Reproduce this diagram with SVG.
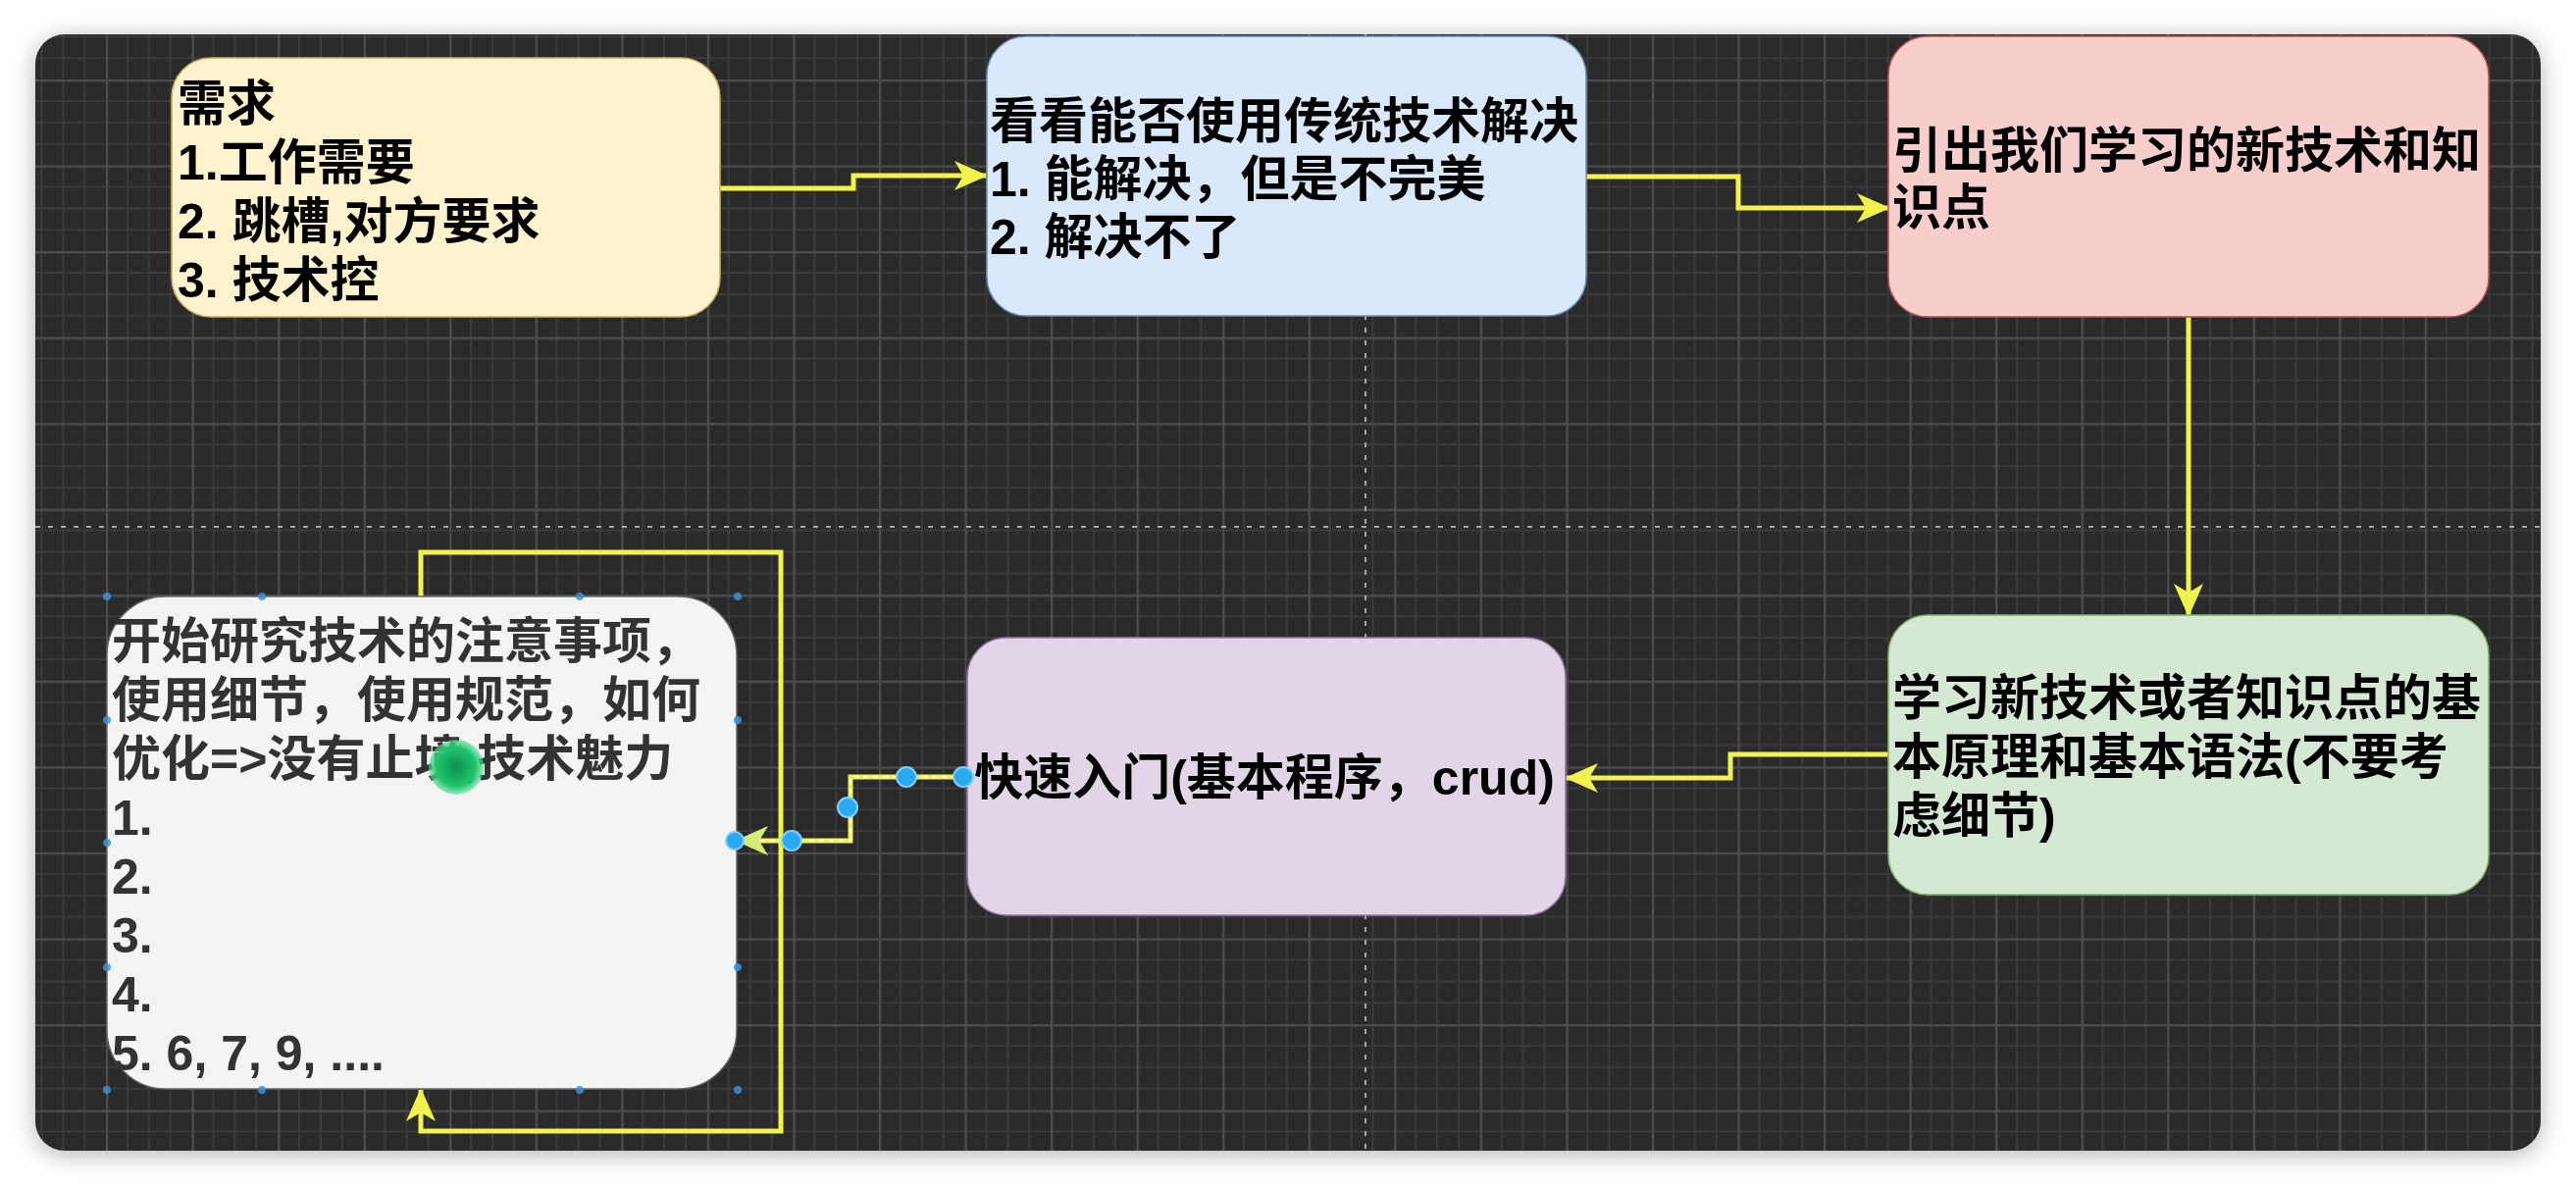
<svg xmlns="http://www.w3.org/2000/svg" width="2626" height="1210" viewBox="0 0 2626 1210">
<style>
.t{font-family:"Liberation Sans","Noto Sans CJK SC",sans-serif;font-weight:bold;font-size:50px;fill:#000}
.t6{fill:#333}
.conn{fill:none;stroke:#f2f24c;stroke-width:5}
.cp{fill:#3d8fd6;opacity:0.85}
.h{fill:#2aa9f2;stroke:#7fd0ff;stroke-width:2}
</style>
<defs>
<pattern id="grid" patternUnits="userSpaceOnUse" x="108" y="81" width="87.55" height="87.55">
<rect width="87.55" height="87.55" fill="#2b2b2b"/>
<rect x="21.2" y="0" width="1.6" height="87.55" fill="#3d3d3d"/>
<rect x="43.1" y="0" width="1.6" height="87.55" fill="#3d3d3d"/>
<rect x="65" y="0" width="1.6" height="87.55" fill="#3d3d3d"/>
<rect x="0" y="21.2" width="87.55" height="1.6" fill="#3d3d3d"/>
<rect x="0" y="43.1" width="87.55" height="1.6" fill="#3d3d3d"/>
<rect x="0" y="65" width="87.55" height="1.6" fill="#3d3d3d"/>
<rect x="0" y="0" width="2.2" height="87.55" fill="#4e4e4e"/>
<rect x="0" y="0" width="87.55" height="2.2" fill="#4e4e4e"/>
</pattern>
<filter id="sh" x="-5%" y="-10%" width="110%" height="120%">
<feDropShadow dx="0" dy="4" stdDeviation="12" flood-color="#000" flood-opacity="0.3"/>
</filter>
<marker id="arr" markerUnits="userSpaceOnUse" markerWidth="34" markerHeight="32" viewBox="0 0 34 32" refX="32" refY="16" orient="auto">
<path d="M0,1 L34,16 L0,31 L9,16 Z" fill="#f2f24c"/>
</marker>
<marker id="arrSel" markerUnits="userSpaceOnUse" markerWidth="34" markerHeight="32" viewBox="0 0 34 32" refX="32" refY="16" orient="auto">
<path d="M0,1 L34,16 L0,31 L9,16 Z" fill="#d6ea78"/>
</marker>
<radialGradient id="gc" cx="0.5" cy="0.5" r="0.5">
<stop offset="0" stop-color="#0f8f52"/>
<stop offset="0.7" stop-color="#1fc46c"/>
<stop offset="1" stop-color="#4fe090" stop-opacity="0.6"/>
</radialGradient>
</defs>
<rect width="2626" height="1210" fill="#ffffff"/>
<rect id="panel" x="36" y="35" width="2554" height="1138" rx="30" fill="url(#grid)" filter="url(#sh)"/>
<g id="pagebreaks" stroke="#a8a8a8" stroke-width="2" stroke-dasharray="5 8" fill="none">
<line x1="36" y1="537" x2="2590" y2="537"/>
<line x1="1392" y1="35" x2="1392" y2="1173"/>
</g>
<g id="connectors">
<path class="conn" d="M734,192 H870 V179 H1005" marker-end="url(#arr)"/>
<path class="conn" d="M1617,180 H1772 V212 H1925" marker-end="url(#arr)"/>
<path class="conn" d="M2231,323 V627" marker-end="url(#arr)"/>
<path class="conn" d="M1925,769 H1764 V793 H1597" marker-end="url(#arr)"/>
<path class="conn" d="M429,608 V563 H796 V1153 H429 V1111" marker-end="url(#arr)"/>
<path class="conn" d="M985,792 H867 V857 H751" stroke="#e2ee6a" marker-end="url(#arrSel)"/>
<path d="M985,792 H867 V857 H772" fill="none" stroke="#f8fbe0" stroke-width="2" stroke-dasharray="5 5"/>
</g>
<g id="n1">
<rect x="175" y="59" width="559" height="264" rx="40" fill="#fff2cc" stroke="#c9ad5a" stroke-width="1.5"/>
<text class="t" x="181" y="123">需求</text>
<text class="t" x="181" y="183">1.工作需要</text>
<text class="t" x="181" y="243">2. 跳槽,对方要求</text>
<text class="t" x="181" y="303">3. 技术控</text>
</g>
<g id="n2">
<rect x="1006" y="37" width="611" height="285" rx="40" fill="#dae8fc" stroke="#6c8ebf" stroke-width="1.5"/>
<text class="t" x="1009" y="141">看看能否使用传统技术解决</text>
<text class="t" x="1009" y="200">1. 能解决，但是不完美</text>
<text class="t" x="1009" y="259">2. 解决不了</text>
</g>
<g id="n3">
<rect x="1925" y="37" width="612" height="286" rx="40" fill="#f8cecc" stroke="#b85450" stroke-width="1.5"/>
<text class="t" x="1929" y="171">引出我们学习的新技术和知</text>
<text class="t" x="1929" y="229">识点</text>
</g>
<g id="n4">
<rect x="1925" y="627" width="612" height="285" rx="40" fill="#d5e8d4" stroke="#82b366" stroke-width="1.5"/>
<text class="t" x="1929" y="729">学习新技术或者知识点的基</text>
<text class="t" x="1929" y="789">本原理和基本语法(不要考</text>
<text class="t" x="1929" y="849">虑细节)</text>
</g>
<g id="n5">
<rect x="986" y="650" width="610" height="283" rx="40" fill="#e1d5e7" stroke="#9673a6" stroke-width="1.5"/>
<text class="t" x="1289" y="810" text-anchor="middle">快速入门(基本程序，crud)</text>
</g>
<g id="n6">
<rect x="109" y="608" width="642" height="502" rx="60" fill="#f4f4f4" stroke="#666666" stroke-width="1.5"/>
<text class="t t6" x="114" y="671">开始研究技术的注意事项，</text>
<text class="t t6" x="114" y="731">使用细节，使用规范，如何</text>
<text class="t t6" x="114" y="791">优化=&gt;没有止境,技术魅力</text>
<text class="t t6" x="114" y="851">1.</text>
<text class="t t6" x="114" y="911">2.</text>
<text class="t t6" x="114" y="971">3.</text>
<text class="t t6" x="114" y="1031">4.</text>
<text class="t t6" x="114" y="1091">5. 6, 7, 9, ....</text>
</g>
<g id="selection">
<circle class="cp" cx="109" cy="608" r="4"/><circle class="cp" cx="267" cy="608" r="4"/><circle class="cp" cx="591" cy="608" r="4"/><circle class="cp" cx="752" cy="608" r="4"/>
<circle class="cp" cx="109" cy="734" r="4"/><circle class="cp" cx="752" cy="734" r="4"/>
<circle class="cp" cx="109" cy="859" r="4"/>
<circle class="cp" cx="109" cy="986" r="4"/><circle class="cp" cx="752" cy="986" r="4"/>
<circle class="cp" cx="109" cy="1111" r="4"/><circle class="cp" cx="267" cy="1111" r="4"/><circle class="cp" cx="591" cy="1111" r="4"/><circle class="cp" cx="752" cy="1111" r="4"/>
<circle class="h" cx="749" cy="857" r="9"/>
<circle class="h" cx="807" cy="857" r="10"/>
<circle class="h" cx="864" cy="823" r="10"/>
<circle class="h" cx="924" cy="792" r="10"/>
<circle class="h" cx="982" cy="792" r="10"/>
<circle cx="465" cy="782" r="28" fill="url(#gc)"/>
</g>
</svg>
